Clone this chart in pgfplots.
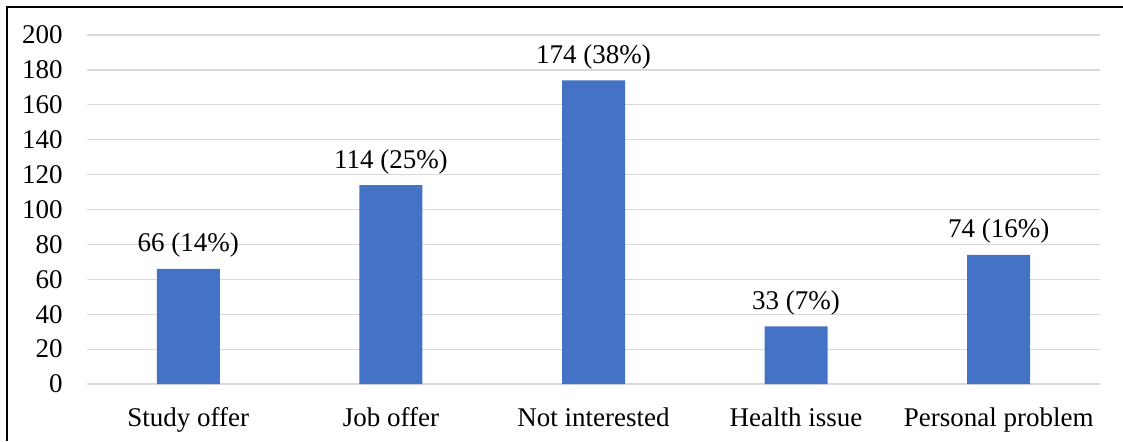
\documentclass[border=0pt]{standalone}
\usepackage{pgfplots}
\pgfplotsset{compat=1.18}
\usepackage{fontspec}
\setmainfont{Liberation Serif}
\definecolor{barblue}{HTML}{4472C4}
\definecolor{gridgray}{HTML}{D9D9D9}
\begin{document}
\begin{tikzpicture}[font=\fontsize{13.5pt}{16pt}\selectfont]
\useasboundingbox (0,0) rectangle (561.5pt,220.5pt);
\draw[line width=1pt,black] (3.25pt,0) -- (3.25pt,217.25pt) -- (561.5pt,217.25pt);
\begin{axis}[
  at={(43.5pt,28.5pt)}, anchor=south west,
  scale only axis, width=506.5pt, height=174.5pt,
  xmin=-0.5, xmax=4.5, ymin=0, ymax=200,
  ytick={0,20,...,200},
  yticklabels={0,20,40,60,80,100,120,140,160,180,200},
  xtick={0,1,2,3,4},
  xticklabels={Study offer, Job offer, Not interested, Health issue, Personal problem},
  ymajorgrids, grid style={gridgray, line width=0.6pt},
  axis line style={draw=none},
  major tick length=0pt,
  yticklabel style={anchor=east, inner sep=0pt, xshift=-12pt},
  xticklabel style={anchor=north, inner sep=0pt, yshift=-11.5pt},
  ybar, bar width=31.5pt,
  nodes near coords,
  point meta=explicit symbolic,
  nodes near coords style={anchor=base, inner sep=0pt, yshift=8.5pt, text=black},
  clip=false,
]
\draw[gridgray, line width=0.6pt] (axis cs:-0.5,0) -- (axis cs:4.5,0);
\addplot[fill=barblue, draw=none] coordinates {
  (0,66) [66 (14\%)]
  (1,114) [114 (25\%)]
  (2,174) [174 (38\%)]
  (3,33) [33 (7\%)]
  (4,74) [74 (16\%)]
};
\end{axis}
\end{tikzpicture}
\end{document}
